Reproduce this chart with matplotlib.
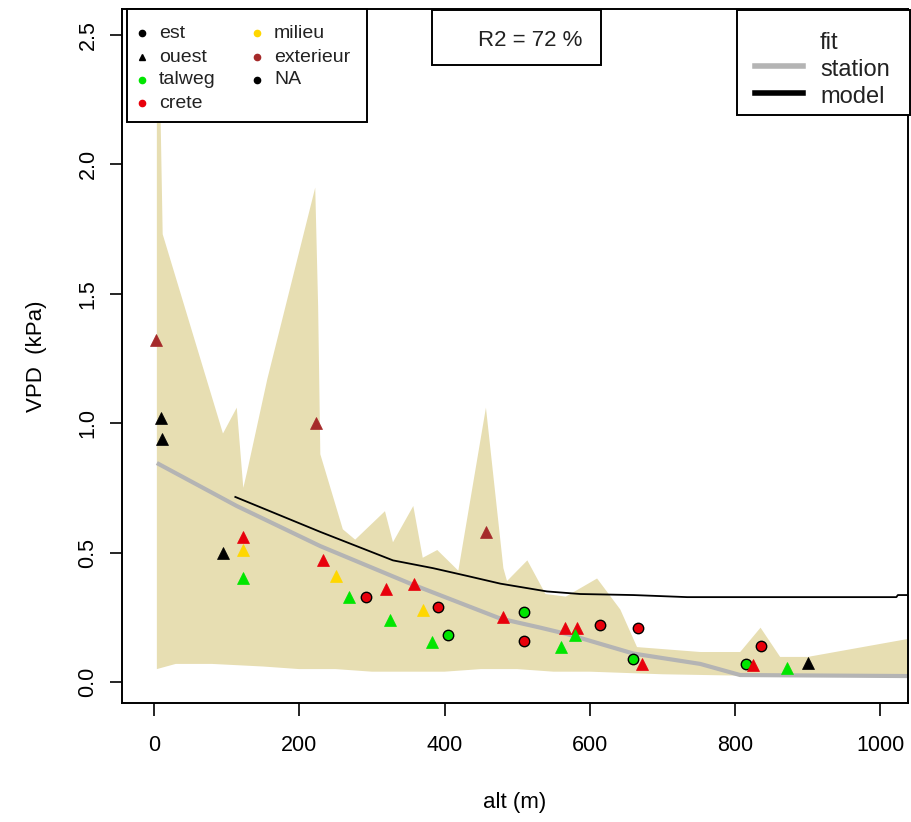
import numpy as np
import matplotlib
matplotlib.use("Agg")
from matplotlib import pyplot as plt
from matplotlib.patches import Rectangle
from matplotlib.lines import Line2D

plt.rcParams['font.family'] = ['Liberation Sans', 'DejaVu Sans']

# envelope of the station VPD along altitude (upper and lower bound)
env_up_alt = [4, 4, 9, 12, 95, 114, 123, 128, 156, 222, 226, 229, 260, 277, 318, 329,
              357, 370, 390, 419, 457, 481, 486, 514, 539, 567, 610, 642, 665, 752,
              807, 835, 862, 900, 1045]
env_up_vpd = [0.05, 2.30, 2.20, 1.73, 0.96, 1.06, 0.75, 0.81, 1.17, 1.91, 1.45, 0.88,
              0.59, 0.55, 0.66, 0.54, 0.68, 0.48, 0.51, 0.43, 1.06, 0.44, 0.39, 0.47,
              0.34, 0.33, 0.40, 0.28, 0.135, 0.116, 0.116, 0.21, 0.097, 0.097, 0.17]
env_lo_alt = [4, 30, 80, 150, 200, 250, 300, 350, 400, 450, 500, 550, 600, 650, 700,
              800, 900, 1045]
env_lo_vpd = [0.05, 0.07, 0.07, 0.06, 0.05, 0.05, 0.04, 0.04, 0.04, 0.05, 0.05, 0.04,
              0.04, 0.035, 0.03, 0.025, 0.025, 0.025]

# fitted curve on stations
fit_alt = [4, 114, 229, 353, 477, 532, 569, 660, 752, 807, 1045]
fit_vpd = [0.846, 0.68, 0.525, 0.38, 0.245, 0.21, 0.185, 0.11, 0.07, 0.027, 0.023]

# model curve
model_alt = [112, 229, 329, 384, 431, 477, 541, 587, 660, 734, 1022, 1024, 1045]
model_vpd = [0.715, 0.58, 0.47, 0.44, 0.41, 0.38, 0.35, 0.34, 0.336, 0.328, 0.328,
             0.336, 0.336]

# stations
st_alt = [3, 9, 11, 95, 122, 122, 123, 223, 233, 250, 268, 292, 320, 325, 358, 370,
          391, 383, 405, 457, 481, 510, 510, 566, 582, 580, 560, 614, 666, 659, 672,
          815, 825, 835, 872, 901]
st_vpd = [1.32, 1.02, 0.94, 0.50, 0.56, 0.51, 0.40, 1.00, 0.47, 0.41, 0.33, 0.33, 0.36,
          0.24, 0.38, 0.28, 0.29, 0.155, 0.18, 0.58, 0.25, 0.27, 0.16, 0.21, 0.21, 0.18,
          0.135, 0.22, 0.21, 0.09, 0.07, 0.07, 0.065, 0.14, 0.055, 0.073]
st_topo = ["exterieur", "NA", "NA", "NA", "crete", "milieu", "talweg", "exterieur",
           "crete", "milieu", "talweg", "crete", "crete", "talweg", "crete", "milieu",
           "crete", "talweg", "talweg", "exterieur", "crete", "talweg", "crete", "crete",
           "crete", "talweg", "talweg", "crete", "crete", "talweg", "crete", "talweg",
           "crete", "crete", "talweg", "NA"]
st_side = ["ouest", "ouest", "ouest", "ouest", "ouest", "ouest", "ouest", "ouest",
           "ouest", "ouest", "ouest", "est", "ouest", "ouest", "ouest", "ouest",
           "est", "ouest", "est", "ouest", "ouest", "est", "est", "ouest",
           "ouest", "ouest", "ouest", "est", "est", "est", "ouest", "est",
           "ouest", "est", "ouest", "ouest"]

r2 = 72

topo_col = {"talweg": "#00E600", "crete": "#E8000B", "milieu": "#FFD700",
            "exterieur": "#A52A2A", "NA": "black"}
band_col = "#E7DEB2"

W, H = 911, 822
fig = plt.figure(figsize=(W / 100, H / 100), dpi=100)
ax = fig.add_axes([122 / W, 1 - 703 / H, 786 / W, 694 / H])


def px(x, y):
    return x / W, 1 - y / H


ax.fill(env_up_alt + env_lo_alt[::-1], env_up_vpd + env_lo_vpd[::-1],
        color=band_col, lw=0, zorder=1)
ax.plot(fit_alt, fit_vpd, color="#B4B4B4", lw=3.0, zorder=2, solid_capstyle="butt")
ax.plot(model_alt, model_vpd, color="black", lw=1.3, zorder=3)

for a, v, t, s in zip(st_alt, st_vpd, st_topo, st_side):
    if s == "ouest":
        ax.plot(a, v, "^", ms=9, color=topo_col[t], mec=topo_col[t], mew=0.5, zorder=4)
    else:
        ax.plot(a, v, "o", ms=7.5, mfc=topo_col[t], mec="black", mew=1.0, zorder=4)

ax.set_xlim(-44, 1038)
ax.set_ylim(-0.081, 2.60)
ax.set_xticks([0, 200, 400, 600, 800, 1000])
ax.set_yticks([0, 0.5, 1.0, 1.5, 2.0, 2.5])
ax.set_yticklabels(["0.0", "0.5", "1.0", "1.5", "2.0", "2.5"], rotation=90, va="center")
ax.tick_params(direction="out", length=9, width=1.2, labelsize=15.5, pad=14)
ax.tick_params(axis="y", pad=8)
for sp in ax.spines.values():
    sp.set_linewidth(1.4)
ax.set_xlabel("alt (m)", fontsize=16, labelpad=26)
ax.set_ylabel("VPD  (kPa)", fontsize=16, labelpad=22)

# legend boxes
def box(x0, y0, x1, y1):
    (fx0, fy1), (fx1, fy0) = px(x0, y0), px(x1, y1)
    fig.patches.append(Rectangle((fx0, fy0), fx1 - fx0, fy1 - fy0, transform=fig.transFigure,
                                 facecolor="white", edgecolor="black", lw=1.4, zorder=10))

box(127, 9, 367, 122)
entries = [("est", "o", "black", 142, 33), ("ouest", "^", "black", 142, 57),
           ("talweg", "o", topo_col["talweg"], 142, 80), ("crete", "o", topo_col["crete"], 142, 103),
           ("milieu", "o", topo_col["milieu"], 257, 33), ("exterieur", "o", topo_col["exterieur"], 257, 57),
           ("NA", "o", "black", 257, 80)]
for lab, mk, col, x, y in entries:
    fx, fy = px(x, y)
    fig.add_artist(Line2D([fx], [fy], marker=mk, ms=4.5, color=col, transform=fig.transFigure, zorder=11))
    fx, fy = px(x + 17, y)
    fig.text(fx, fy, lab, fontsize=14, va="center", ha="left", color="#222222", zorder=11)

box(432, 10, 601, 65)
fx, fy = px(530, 40)
fig.text(fx, fy, "R2 = %d %%" % r2, fontsize=16, va="center", ha="center", color="#222222", zorder=11)

box(737, 10, 910, 115)
for lab, col, y in [("fit", None, 43), ("station", "#B4B4B4", 70), ("model", "black", 97)]:
    if col is not None:
        (a0, b0), (a1, _) = px(755, y - 4), px(803, y)
        fig.add_artist(Line2D([a0, a1], [b0, b0], color=col, lw=4, transform=fig.transFigure, zorder=11))
    fx, fy = px(820, y)
    fig.text(fx, fy, lab, fontsize=17, va="center", ha="left", color="#222222", zorder=11)

fig.savefig("out.png", dpi=100)
